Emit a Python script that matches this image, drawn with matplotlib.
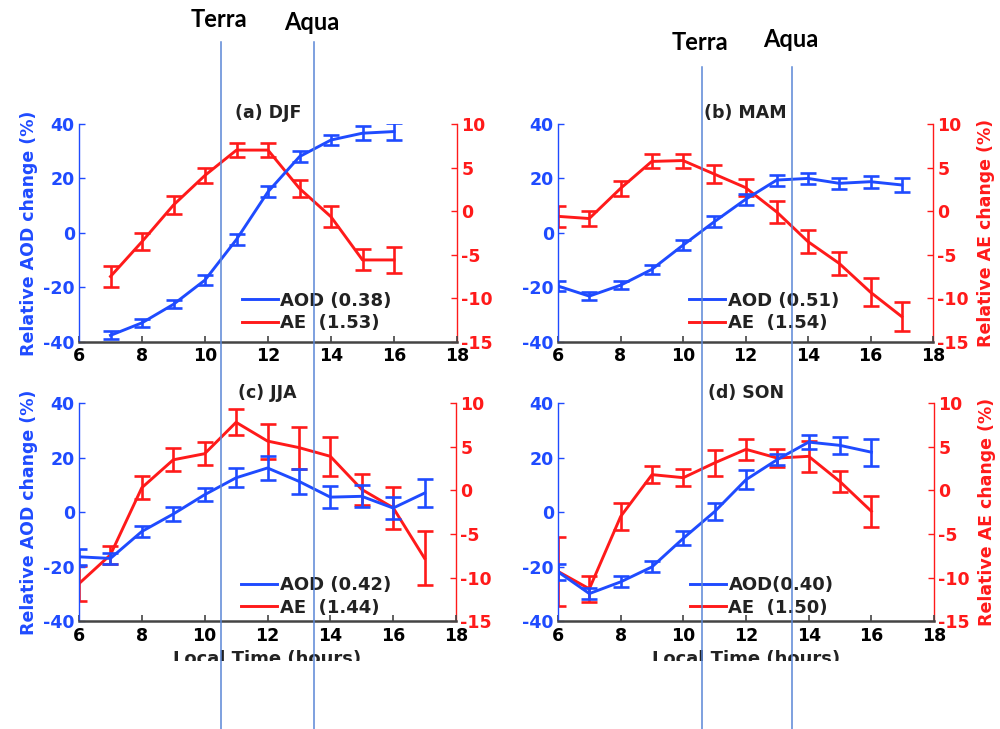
import matplotlib
matplotlib.use('Agg')
import matplotlib.pyplot as plt
from matplotlib.lines import Line2D
from matplotlib.patches import Rectangle

plt.rcParams['axes.unicode_minus'] = False
plt.rcParams['font.family'] = ['DejaVu Sans']

# ---------------- data ----------------
hours_djf = [7, 8, 9, 10, 11, 12, 13, 14, 15, 16]
aod_djf = [-37.6, -33.0, -26.2, -17.3, -2.4, 15.1, 28.0, 34.1, 36.6, 37.2]
aod_err_djf = [1.5, 1.5, 1.5, 1.8, 2.0, 2.0, 2.0, 2.0, 2.5, 3.0]
ae_djf = [-7.5, -3.5, 0.7, 4.1, 7.0, 7.0, 2.6, -0.65, -5.6, -5.6]
ae_err_djf = [1.2, 1.0, 1.0, 0.9, 0.8, 0.8, 1.0, 1.2, 1.2, 1.5]

hours_mam = [6, 7, 8, 9, 10, 11, 12, 13, 14, 15, 16, 17]
aod_mam = [-19.5, -23.2, -19.2, -13.4, -4.5, 4.1, 12.3, 19.4, 20.0, 18.2, 18.8, 17.6]
aod_err_mam = [1.8, 1.5, 1.5, 1.8, 1.8, 2.0, 2.0, 2.0, 2.0, 2.0, 2.2, 2.5]
ae_mam = [-0.6, -0.85, 2.6, 5.7, 5.8, 4.25, 2.7, -0.1, -3.5, -6.0, -9.3, -12.1]
ae_err_mam = [1.2, 0.9, 0.9, 0.8, 0.8, 1.0, 1.0, 1.3, 1.3, 1.3, 1.6, 1.7]

hours_jja = [6, 7, 8, 9, 10, 11, 12, 13, 14, 15, 16, 17]
aod_jja = [-16.4, -17.0, -7.1, -0.7, 6.4, 12.6, 16.2, 11.3, 5.5, 5.8, 1.5, 7.0]
aod_err_jja = [3.0, 2.0, 2.0, 2.5, 2.5, 3.5, 4.5, 4.5, 4.0, 4.0, 4.0, 5.0]
ae_jja = [-10.7, -7.4, 0.3, 3.5, 4.2, 7.8, 5.65, 4.9, 3.9, 0.1, -2.0, -7.8]
ae_err_jja = [2.0, 1.0, 1.3, 1.3, 1.3, 1.5, 2.0, 2.4, 2.2, 1.8, 2.4, 3.1]

hours_son = [6, 7, 8, 9, 10, 11, 12, 13, 14, 15, 16]
aod_son = [-21.9, -29.9, -25.6, -20.1, -9.6, 0.2, 11.9, 19.3, 25.7, 24.5, 22.0]
aod_err_son = [3.0, 2.0, 2.0, 2.0, 2.5, 3.0, 3.5, 2.0, 2.5, 3.0, 5.0]
ae_son = [-9.3, -11.3, -3.0, 1.8, 1.45, 3.15, 4.7, 3.7, 3.9, 1.0, -2.4]
ae_err_son = [4.0, 1.5, 1.5, 1.0, 1.0, 1.5, 1.2, 1.0, 1.8, 1.2, 1.8]

titles = ['(a) DJF', '(b) MAM', '(c) JJA', '(d) SON']
legend_aod = ['AOD (0.38)', 'AOD (0.51)', 'AOD (0.42)', 'AOD(0.40)']
legend_ae = ['AE  (1.53)', 'AE  (1.54)', 'AE  (1.44)', 'AE  (1.50)']

terra_left, aqua_left = 10.5, 13.45
terra_right, aqua_right = 10.6, 13.5

xticks = [6, 8, 10, 12, 14, 16, 18]
aod_ticks = [-40, -20, 0, 20, 40]
ae_ticks = [-15, -10, -5, 0, 5, 10]

# ---------------- style ----------------
BLUE = '#1f4bff'
RED = '#ff1a1a'
VLINE = '#5a86d6'
FS_TICK = 12.5

fig = plt.figure(figsize=(10, 7.29), dpi=100)

positions = [
    [0.079, 0.531, 0.378, 0.299],
    [0.558, 0.531, 0.375, 0.299],
    [0.079, 0.148, 0.377, 0.299],
    [0.558, 0.148, 0.376, 0.299],
]
legend_anchor = [(0.43, 0.045), (0.35, 0.045), (0.43, 0.02), (0.35, 0.02)]

series = [
    (hours_djf, aod_djf, aod_err_djf, ae_djf, ae_err_djf),
    (hours_mam, aod_mam, aod_err_mam, ae_mam, ae_err_mam),
    (hours_jja, aod_jja, aod_err_jja, ae_jja, ae_err_jja),
    (hours_son, aod_son, aod_err_son, ae_son, ae_err_son),
]

axes = []
for i, pos in enumerate(positions):
    hrs, aod, aod_e, ae, ae_e = series[i]
    ax = fig.add_axes(pos)
    ax2 = ax.twinx()
    ax.set_zorder(2)
    ax.patch.set_visible(False)
    axes.append(ax)

    ax.errorbar(hrs, aod, yerr=aod_e, color=BLUE, lw=2.1, elinewidth=1.9,
                capsize=5.5, capthick=1.9, zorder=3)
    ax2.errorbar(hrs, ae, yerr=ae_e, color=RED, lw=2.1, elinewidth=1.9,
                 capsize=5.5, capthick=1.9, zorder=3)

    ax.set_xlim(6, 18)
    ax.set_ylim(-40, 40)
    ax2.set_ylim(-15, 10)
    ax.set_xticks(xticks)
    ax.set_yticks(aod_ticks)
    ax2.set_yticks(ae_ticks)

    for a in (ax, ax2):
        a.spines['top'].set_visible(False)
    ax.spines['right'].set_visible(False)
    ax2.spines['left'].set_visible(False)
    ax2.spines['bottom'].set_visible(False)
    ax.spines['left'].set_color(BLUE)
    ax.spines['left'].set_linewidth(1.0)
    ax2.spines['right'].set_color(RED)
    ax2.spines['right'].set_linewidth(1.0)
    ax.spines['bottom'].set_color('#444444')
    ax.spines['bottom'].set_linewidth(1.8)

    ax.tick_params(axis='x', direction='in', length=4, width=1.2, color='#444444',
                   labelsize=FS_TICK, pad=4)
    ax.tick_params(axis='y', direction='in', length=4, width=1.0, color=BLUE,
                   labelcolor=BLUE, labelsize=FS_TICK, pad=3)
    ax2.tick_params(axis='y', direction='in', length=4, width=1.0, color=RED,
                    labelcolor=RED, labelsize=FS_TICK, pad=3)
    for lab in ax.get_xticklabels() + ax.get_yticklabels() + ax2.get_yticklabels():
        lab.set_fontweight('bold')

    ax.set_title(titles[i], fontsize=12.5, fontweight='bold', pad=4, color='#222222')

    if i in (0, 2):
        ax.set_ylabel('Relative AOD change (%)', color=BLUE, fontsize=12.5,
                      fontweight='bold', labelpad=4)
    if i in (1, 3):
        ax2.set_ylabel('Relative AE change (%)', color=RED, fontsize=12.5,
                       fontweight='bold', rotation=90, labelpad=6)
    if i in (2, 3):
        ax.set_xlabel('Local Time (hours)', fontsize=13, fontweight='bold',
                      labelpad=4, color='#222222')

    handles = [Line2D([], [], color=BLUE, lw=2.1), Line2D([], [], color=RED, lw=2.1)]
    leg = ax.legend(handles, [legend_aod[i], legend_ae[i]], loc='lower left',
                    bbox_to_anchor=legend_anchor[i], frameon=False,
                    prop={'weight': 'bold', 'size': 13}, handlelength=2.0,
                    handletextpad=0.15, labelspacing=0.25, borderpad=0,
                    borderaxespad=0)
    for t in leg.get_texts():
        t.set_color('#222222')

# white band that crops the bottom of the picture
fig.patches.append(Rectangle((0, 0), 1, 0.0933, transform=fig.transFigure,
                             facecolor='white', edgecolor='none', zorder=5))

# overpass lines and labels
def fig_x(ax, xval):
    disp = ax.transData.transform((xval, 0))
    return fig.transFigure.inverted().transform(disp)[0]

groups = [
    (axes[0], terra_left, aqua_left, 0.942, 0.963, 0.959),
    (axes[1], terra_right, aqua_right, 0.908, 0.931, 0.9355),
]
for ax, t_x, a_x, top, y_terra, y_aqua in groups:
    for name, xv, yb in (('Terra', t_x, y_terra), ('Aqua', a_x, y_aqua)):
        fx = fig_x(ax, xv)
        fig.lines.append(Line2D([fx, fx], [0, top], transform=fig.transFigure,
                                color=VLINE, lw=1.1, zorder=6))
        fig.text(fx - 0.002, yb, name, ha='center', va='baseline',
                 fontsize=17, fontweight='bold', family='Lato', color='black')

fig.savefig('out.png', dpi=100)
